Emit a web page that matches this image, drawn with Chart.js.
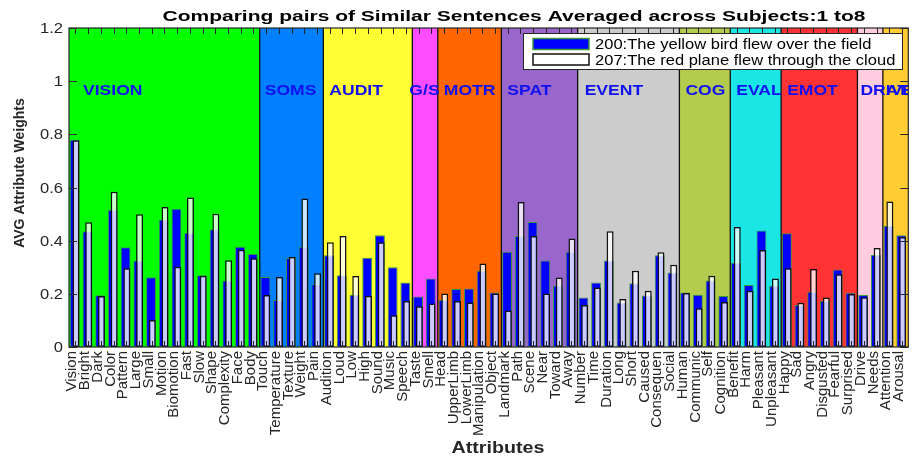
<!DOCTYPE html>
<html>
<head>
<meta charset="utf-8">
<script src="https://cdn.jsdelivr.net/npm/chart.js"></script>
<style>
  html, body { margin: 0; padding: 0; background: #ffffff; }
  canvas { display: block; }
</style>
</head>
<body>
<canvas id="c" width="924" height="457"></canvas>
<script>
// ---------------- data ----------------
const chartTitle = 'Comparing pairs of Similar Sentences Averaged across Subjects:1 to8';
const xTitle = 'Attributes';
const yTitle = 'AVG Attribute Weights';
const categories = ['Vision','Bright','Dark','Color','Pattern','Large','Small','Motion','Biomotion','Fast','Slow','Shape','Complexity','Face','Body',
  'Touch','Temperature','Texture','Weight','Pain',
  'Audition','Loud','Low','High','Sound','Music','Speech',
  'Taste','Smell',
  'Head','UpperLimb','LowerLimb','Manipulation','Object',
  'Landmark','Path','Scene','Near','Toward','Away',
  'Number','Time','Duration','Long','Short','Caused','Consequen','Social',
  'Human','Communic','Self','Cognition',
  'Benefit','Harm','Pleasant','Unpleasant',
  'Happy','Sad','Angry','Disgusted','Fearful','Surprised',
  'Drive','Needs',
  'Attention','Arousal'];
const seriesNames = ['200:The yellow bird flew over the field', '207:The red plane flew through the cloud'];
const series200 = [0.780,0.435,0.195,0.515,0.375,0.325,0.262,0.480,0.520,0.430,0.270,0.443,0.250,0.377,0.350,
  0.263,0.177,0.335,0.377,0.236,
  0.345,0.270,0.196,0.336,0.420,0.300,0.243,
  0.190,0.258,
  0.177,0.218,0.220,0.287,0.205,
  0.358,0.418,0.470,0.325,0.230,0.358,
  0.186,0.243,0.325,0.167,0.240,0.194,0.345,0.280,
  0.205,0.197,0.250,0.192,
  0.317,0.233,0.438,0.230,
  0.428,0.158,0.208,0.174,0.292,0.204,
  0.196,0.346,
  0.455,0.420];
const series207 = [0.778,0.469,0.192,0.584,0.296,0.499,0.102,0.527,0.302,0.562,0.268,0.501,0.326,0.366,0.334,
  0.196,0.263,0.339,0.559,0.277,
  0.394,0.418,0.267,0.193,0.394,0.119,0.173,
  0.153,0.164,
  0.201,0.173,0.167,0.314,0.201,
  0.137,0.545,0.418,0.201,0.261,0.408,
  0.158,0.224,0.435,0.181,0.287,0.212,0.356,0.309,
  0.203,0.146,0.268,0.169,
  0.451,0.212,0.365,0.258,
  0.296,0.166,0.293,0.186,0.274,0.199,
  0.187,0.372,
  0.547,0.414];
const groupNames = ['VISION','SOMS','AUDIT','G/S','MOTR','SPAT','EVENT','COG','EVAL','EMOT','DRIVE','ATTN'];
const groupSizes = [15,5,7,2,5,6,8,4,4,6,2,2];
const yTickLabels = ['0','0.2','0.4','0.6','0.8','1','1.2'];

// ---------------- style ----------------
const groupColors = ['#00ff00','#0080ff','#ffff33','#ff4dff','#ff6600','#9966cc','#cccccc','#b3cc4d','#1ae6e6','#ff3333','#ffcce0','#ffcc33'];
const groupLabelOffsets = [14,5,6,-3,6,6,7,6,6,6,3,3];
const FONT = '"Liberation Sans", Arial, Helvetica, sans-serif';
const AXIS = '#262626';

function stretchText(ctx, text, x, y, font, sx, align, color) {
  ctx.save();
  ctx.font = font;
  ctx.fillStyle = color;
  ctx.textAlign = 'left';
  ctx.textBaseline = 'alphabetic';
  const w = ctx.measureText(text).width * sx;
  const x0 = align === 'center' ? x - w / 2 : (align === 'right' ? x - w : x);
  ctx.translate(x0, y);
  ctx.scale(sx, 1);
  ctx.fillText(text, 0, 0);
  ctx.restore();
}

const matlabPlugin = {
  id: 'matlabLook',
  beforeDatasetsDraw(chart) {
    const { ctx, chartArea: a, scales: { x } } = chart;
    const w = (x.right - x.left) / categories.length;
    ctx.save();
    let s = 0;
    groupSizes.forEach((n, i) => {
      const x0 = x.left + s * w, x1 = x.left + (s + n) * w;
      ctx.fillStyle = groupColors[i];
      ctx.fillRect(x0, a.top, x1 - x0, a.bottom - a.top);
      s += n;
    });
    ctx.strokeStyle = '#111';
    ctx.lineWidth = 1.3;
    s = 0;
    groupSizes.forEach((n) => {
      s += n;
      if (s < categories.length) {
        const xx = x.left + s * w;
        ctx.beginPath(); ctx.moveTo(xx, a.top); ctx.lineTo(xx, a.bottom); ctx.stroke();
      }
    });
    ctx.restore();
  },
  // the second (white, translucent) series is drawn after the first one so it sits on top
  beforeDatasetDraw(chart, args) {
    if (args.index === 1) return false;
  },
  afterDatasetsDraw(chart) {
    const { ctx, chartArea: a, scales: { x, y } } = chart;
    const w = (x.right - x.left) / categories.length;
    ctx.save();
    ctx.beginPath(); ctx.rect(a.left, a.top, a.right - a.left, a.bottom - a.top); ctx.clip();
    chart.getDatasetMeta(1).controller.draw();
    ctx.restore();
    // group labels
    ctx.save();
    ctx.beginPath(); ctx.rect(a.left, a.top, a.right - a.left, a.bottom - a.top); ctx.clip();
    let s = 0;
    groupSizes.forEach((n, i) => {
      const x0 = x.left + s * w + groupLabelOffsets[i];
      stretchText(ctx, groupNames[i], x0, 95, 'bold 15px ' + FONT, 1.17, 'left', '#1010f0');
      s += n;
    });
    ctx.restore();
    // axes frame and ticks
    ctx.save();
    ctx.strokeStyle = AXIS;
    ctx.lineWidth = 1;
    categories.forEach((c, i) => {
      const px = Math.round(x.getPixelForValue(i)) + 0.5;
      ctx.beginPath();
      ctx.moveTo(px, a.bottom); ctx.lineTo(px, a.bottom - 6);
      ctx.moveTo(px, a.top); ctx.lineTo(px, a.top + 6);
      ctx.stroke();
    });
    yTickLabels.forEach((t) => {
      const py = Math.round(y.getPixelForValue(parseFloat(t))) + 0.5;
      ctx.beginPath();
      ctx.moveTo(a.left, py); ctx.lineTo(a.left + 8, py);
      ctx.moveTo(a.right, py); ctx.lineTo(a.right - 8, py);
      ctx.stroke();
    });
    ctx.lineWidth = 1.2;
    ctx.strokeRect(a.left, a.top, a.right - a.left, a.bottom - a.top);
    ctx.restore();
    // legend
    ctx.save();
    const lx = 523, ly = 33, lw = 379, lh = 36;
    ctx.fillStyle = '#ffffff';
    ctx.fillRect(lx, ly, lw, lh);
    ctx.strokeStyle = AXIS; ctx.lineWidth = 1;
    ctx.strokeRect(lx + 0.5, ly + 0.5, lw, lh);
    const ds = chart.data.datasets;
    [0, 1].forEach((k) => {
      const sy = ly + 5.5 + k * 15.5;
      ctx.fillStyle = k === 0 ? ds[0].backgroundColor : '#ffffff';
      ctx.fillRect(lx + 10, sy, 56, 11);
      ctx.strokeStyle = ds[k].borderColor; ctx.lineWidth = 1.5;
      ctx.strokeRect(lx + 10, sy, 56, 11);
      stretchText(ctx, ds[k].label, lx + 72, sy + 10.5, '14px ' + FONT, 1.18, 'left', '#000');
    });
    ctx.restore();
  },
  afterDraw(chart) {
    const { ctx, scales: { y } } = chart;
    // title
    ctx.save();
    ctx.font = 'bold 15.5px ' + FONT;
    const tw = ctx.measureText(chartTitle).width;
    ctx.restore();
    stretchText(ctx, chartTitle, 514, 20.5, 'bold 15.5px ' + FONT, 703 / tw, 'center', '#000');
    // y tick labels
    yTickLabels.forEach((t) => {
      const py = y.getPixelForValue(parseFloat(t));
      stretchText(ctx, t, 63, py + 5, '14px ' + FONT, 1.18, 'right', AXIS);
    });
    // y title
    ctx.save();
    ctx.translate(24, 173);
    ctx.rotate(-Math.PI / 2);
    ctx.font = 'bold 14px ' + FONT;
    ctx.fillStyle = AXIS;
    ctx.textAlign = 'center';
    ctx.textBaseline = 'alphabetic';
    ctx.fillText(yTitle, 0, 0);
    ctx.restore();
    // x title
    stretchText(ctx, xTitle, 498, 453, 'bold 16px ' + FONT, 1.23, 'center', AXIS);
  }
};

new Chart(document.getElementById('c'), {
  type: 'bar',
  data: {
    labels: categories,
    datasets: [
      { label: seriesNames[0], data: series200, backgroundColor: '#0000ff', borderColor: '#3a9a3a',
        borderWidth: 1, borderSkipped: false, barPercentage: 7.8, categoryPercentage: 0.2 },
      { label: seriesNames[1], data: series207, backgroundColor: 'rgba(255,255,255,0.8)', borderColor: '#111111',
        borderWidth: 1.5, borderSkipped: false, barPercentage: 5.5, categoryPercentage: 0.2 }
    ]
  },
  options: {
    responsive: false,
    animation: false,
    devicePixelRatio: 1,
    layout: { padding: { top: 28, right: 8, left: 0, bottom: 0 } },
    plugins: { legend: { display: false }, tooltip: { enabled: false }, title: { display: false } },
    scales: {
      x: {
        type: 'category',
        offset: true,
        grid: { display: false, drawTicks: false },
        border: { display: false },
        ticks: { autoSkip: false, maxRotation: 90, minRotation: 90, padding: 4, labelOffset: -3,
          color: AXIS, font: { family: FONT, size: 15 } },
        afterFit: (s) => { s.height = 110; }
      },
      y: {
        min: 0, max: 1.2,
        grid: { display: false, drawTicks: false },
        border: { display: false },
        ticks: { stepSize: 0.2, display: false },
        afterFit: (s) => { s.width = 69; }
      }
    }
  },
  plugins: [matlabPlugin]
});
</script>
</body>
</html>
